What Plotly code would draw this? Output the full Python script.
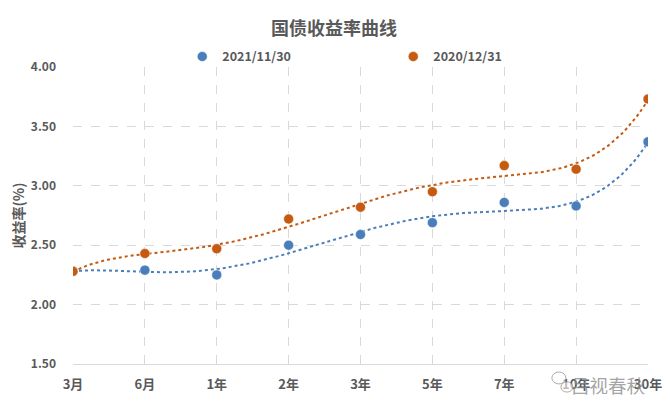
import numpy as np
import plotly.graph_objects as go

# 期限
tenors = ['3月', '6月', '1年', '2年', '3年', '5年', '7年', '10年', '30年']
# 收益率 (%)
yield_2021 = [2.28, 2.29, 2.25, 2.50, 2.59, 2.69, 2.86, 2.83, 3.37]
yield_2020 = [2.28, 2.43, 2.47, 2.72, 2.82, 2.95, 3.17, 3.14, 3.73]
names = ['2021/11/30', '2020/12/31']
colors = ['#4A7EBB', '#C55A11']
y_ticks = [1.5, 2.0, 2.5, 3.0, 3.5, 4.0]

FONT = 'Noto Sans CJK SC'
GREY = '#595959'

x = np.arange(len(tenors))
x_fine = np.linspace(0, len(tenors) - 1, 200)

fig = go.Figure()
for name, ys, c in zip(names, [yield_2021, yield_2020], colors):
    # 多项式趋势线 (like Excel)
    coef = np.polyfit(x, ys, 5)
    fig.add_trace(go.Scatter(x=x_fine, y=np.polyval(coef, x_fine), mode='lines',
                             line=dict(color=c, width=2, dash='dot'),
                             showlegend=False, hoverinfo='skip'))
for name, ys, c in zip(names, [yield_2021, yield_2020], colors):
    fig.add_trace(go.Scatter(x=x, y=ys, mode='markers', name=name,
                             marker=dict(color=c, size=10,
                                         line=dict(color='white', width=0.5))))

# page body has an 8px margin, so the figure is a bit smaller than the window
fig.update_layout(
    width=662, height=411,
    margin=dict(l=65, r=22, t=59, b=55, autoexpand=False),
    paper_bgcolor='white', plot_bgcolor='white',
    font=dict(family=FONT, color=GREY, size=12),
    title=dict(text='国债收益率曲线', x=0.4925, xanchor='center', y=0.966, yanchor='top',
               font=dict(size=18, color=GREY, weight='bold')),
    legend=dict(orientation='h', x=0.19, xanchor='left', y=1.034, yanchor='middle',
                entrywidth=166, font=dict(size=12.5, color=GREY, weight='bold'),
                itemwidth=30, bgcolor='rgba(0,0,0,0)'),
    showlegend=True,
)
fig.update_xaxes(range=[0, len(tenors) - 1], tickvals=list(x), ticktext=tenors,
                 showgrid=True, gridcolor='#D9D9D9', griddash='dash', gridwidth=1,
                 showline=True, linecolor='#D9D9D9', linewidth=1,
                 zeroline=False, ticks='', ticklabelstandoff=8,
                 ticklabeloverflow='allow',
                 tickfont=dict(size=13, color=GREY, weight='bold'))
fig.update_yaxes(range=[1.5, 4.0], tickvals=y_ticks, tickformat='.2f',
                 showgrid=True, gridcolor='#D9D9D9', griddash='dash', gridwidth=1,
                 zeroline=False, ticks='', ticklabelstandoff=16,
                 title=dict(text='收益率(%)', standoff=5,
                            font=dict(size=14, color=GREY, weight='bold')),
                 tickfont=dict(size=12, color=GREY, weight='bold'))

# 水印
fig.add_annotation(text='吕视春秋', xref='paper', yref='paper', x=0.931, y=-0.0707,
                   xanchor='center', yanchor='middle', showarrow=False,
                   font=dict(size=18.5, color='rgba(140,140,140,0.8)', family=FONT))
for cx, cy, r in [(0.845, -0.047, 7), (0.859, -0.0774, 6)]:
    fig.add_shape(type='circle', xref='paper', yref='paper',
                  xsizemode='pixel', ysizemode='pixel', xanchor=cx, yanchor=cy,
                  x0=-r, x1=r, y0=-r * 0.85, y1=r * 0.85,
                  line=dict(color='rgba(150,150,150,0.8)', width=1),
                  fillcolor='rgba(255,255,255,0.6)')

fig.write_html('out.html')
